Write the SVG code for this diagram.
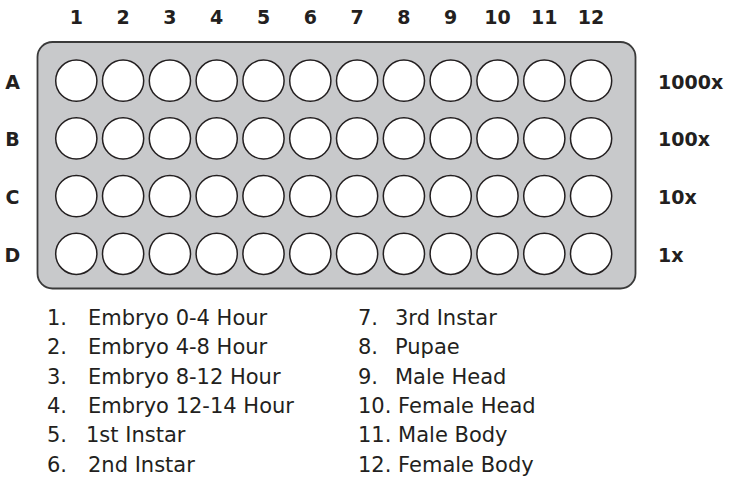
<svg xmlns="http://www.w3.org/2000/svg" width="732" height="479" viewBox="0 0 732 479">
<style>
.lbl{font-family:"DejaVu Sans",sans-serif;font-weight:bold;font-size:19px;fill:#231f20}
.leg{font-family:"DejaVu Sans",sans-serif;font-size:21px;fill:#231f20}
.well{fill:#ffffff;stroke:#231f20;stroke-width:1.5}
.plate{fill:#c8c9cb;stroke:#3a3a3a;stroke-width:1.8}
</style>
<defs><circle id="w" r="20.6" class="well"/></defs>
<g id="plate"><rect class="plate" x="37.5" y="42" width="598" height="246.5" rx="15"/></g>
<g id="wells">
<g id="rowA" transform="translate(0,80.7)">
<use href="#w" x="76.3"/><use href="#w" x="123.1"/><use href="#w" x="169.9"/><use href="#w" x="216.7"/><use href="#w" x="263.5"/><use href="#w" x="310.3"/><use href="#w" x="357.1"/><use href="#w" x="403.9"/><use href="#w" x="450.7"/><use href="#w" x="497.5"/><use href="#w" x="544.3"/><use href="#w" x="591.1"/>
</g>
<g id="rowB" transform="translate(0,138.4)">
<use href="#w" x="76.3"/><use href="#w" x="123.1"/><use href="#w" x="169.9"/><use href="#w" x="216.7"/><use href="#w" x="263.5"/><use href="#w" x="310.3"/><use href="#w" x="357.1"/><use href="#w" x="403.9"/><use href="#w" x="450.7"/><use href="#w" x="497.5"/><use href="#w" x="544.3"/><use href="#w" x="591.1"/>
</g>
<g id="rowC" transform="translate(0,196.1)">
<use href="#w" x="76.3"/><use href="#w" x="123.1"/><use href="#w" x="169.9"/><use href="#w" x="216.7"/><use href="#w" x="263.5"/><use href="#w" x="310.3"/><use href="#w" x="357.1"/><use href="#w" x="403.9"/><use href="#w" x="450.7"/><use href="#w" x="497.5"/><use href="#w" x="544.3"/><use href="#w" x="591.1"/>
</g>
<g id="rowD" transform="translate(0,253.8)">
<use href="#w" x="76.3"/><use href="#w" x="123.1"/><use href="#w" x="169.9"/><use href="#w" x="216.7"/><use href="#w" x="263.5"/><use href="#w" x="310.3"/><use href="#w" x="357.1"/><use href="#w" x="403.9"/><use href="#w" x="450.7"/><use href="#w" x="497.5"/><use href="#w" x="544.3"/><use href="#w" x="591.1"/>
</g>
</g>
<g id="colLabels" class="lbl" text-anchor="middle">
<text x="76.3" y="23.5">1</text><text x="123.1" y="23.5">2</text><text x="169.9" y="23.5">3</text><text x="216.7" y="23.5">4</text><text x="263.5" y="23.5">5</text><text x="310.3" y="23.5">6</text><text x="357.1" y="23.5">7</text><text x="403.9" y="23.5">8</text><text x="450.7" y="23.5">9</text><text x="497.5" y="23.5">10</text><text x="544.3" y="23.5">11</text><text x="591.1" y="23.5">12</text>
</g>
<g id="rowLabels" class="lbl" text-anchor="middle">
<text x="12.5" y="88.5">A</text><text x="12.5" y="146.3">B</text><text x="12.5" y="204.2">C</text><text x="12.5" y="262">D</text>
</g>
<g id="dilutions" class="lbl">
<text x="658" y="88.5">1000x</text><text x="658" y="146.3">100x</text><text x="658" y="204.2">10x</text><text x="658" y="262">1x</text>
</g>
<g id="legend" class="leg">
<text x="47" y="325">1.</text><text x="88" y="325">Embryo 0-4 Hour</text>
<text x="47" y="354.3">2.</text><text x="88" y="354.3">Embryo 4-8 Hour</text>
<text x="47" y="383.6">3.</text><text x="88" y="383.6">Embryo 8-12 Hour</text>
<text x="47" y="412.9">4.</text><text x="88" y="412.9">Embryo 12-14 Hour</text>
<text x="47" y="442.2">5.</text><text x="86" y="442.2">1st Instar</text>
<text x="47" y="471.5">6.</text><text x="88" y="471.5">2nd Instar</text>
<text x="358" y="325">7.</text><text x="395" y="325">3rd Instar</text>
<text x="358" y="354.3">8.</text><text x="395" y="354.3">Pupae</text>
<text x="358" y="383.6">9.</text><text x="395" y="383.6">Male Head</text>
<text x="358" y="412.9">10. Female Head</text>
<text x="358" y="442.2">11. Male Body</text>
<text x="358" y="471.5">12. Female Body</text>
</g>
</svg>
